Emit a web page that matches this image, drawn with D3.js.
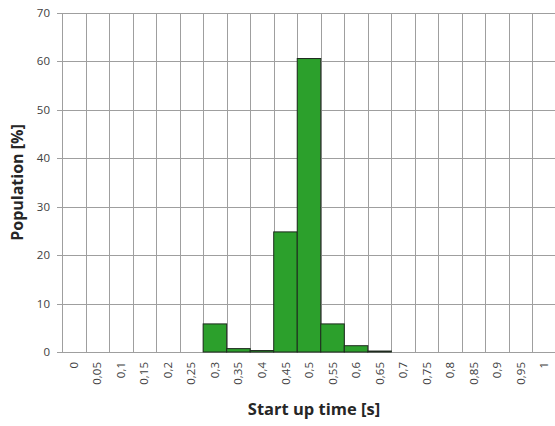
<!DOCTYPE html>
<html>
<head>
<meta charset="utf-8">
<script src="https://cdn.jsdelivr.net/npm/d3@7"></script>
<style>
  body { margin: 0; background: #fff; }
  svg { display: block; font-family: "Open Sans", "Liberation Sans", sans-serif; }
</style>
</head>
<body>
<svg id="chart" width="555" height="426"></svg>
<script>
// bin labels (start up time, s)
const bins = ['0', '0,05', '0,1', '0,15', '0,2', '0,25', '0,3', '0,35', '0,4', '0,45', '0,5',
    '0,55', '0,6', '0,65', '0,7', '0,75', '0,8', '0,85', '0,9', '0,95', '1'];

// population share per bin, %
const population = [0, 0, 0, 0, 0, 0, 5.8, 0.7, 0.3, 24.8, 60.6,
    5.8, 1.3, 0.2, 0, 0, 0, 0, 0, 0, 0];

const yTicks = [0, 10, 20, 30, 40, 50, 60, 70];

const svg = d3.select('#chart');
const margin = { left: 62, top: 13, right: 556, bottom: 352 };

const x = d3.scaleBand()
    .domain(bins)
    .range([margin.left, margin.right])
    .padding(0);

const y = d3.scaleLinear()
    .domain([0, 70])
    .range([margin.bottom, margin.top]);

const grid = svg.append('g');

// horizontal grid, with little ticks left of the axis
grid.selectAll('line.h')
    .data(yTicks)
    .enter().append('line')
    .attr('class', 'h')
    .attr('x1', margin.left - 5)
    .attr('x2', margin.right)
    .attr('y1', d => Math.round(y(d)) + 0.5)
    .attr('y2', d => Math.round(y(d)) + 0.5)
    .style('stroke', '#9f9f9f');

// vertical grid on the bin boundaries
grid.selectAll('line.v')
    .data(bins.concat(['end']))
    .enter().append('line')
    .attr('class', 'v')
    .attr('x1', (d, i) => Math.round(margin.left + i * x.bandwidth()) + 0.5)
    .attr('x2', (d, i) => Math.round(margin.left + i * x.bandwidth()) + 0.5)
    .attr('y1', y(70))
    .attr('y2', y(0))
    .style('stroke', '#9f9f9f');

// bars
svg.append('g').selectAll('rect')
    .data(bins.map((b, i) => ({ bin: b, value: population[i] })).filter(d => d.value > 0))
    .enter().append('rect')
    .attr('x', d => x(d.bin))
    .attr('width', x.bandwidth())
    .attr('y', d => y(d.value))
    .attr('height', d => y(0) - y(d.value))
    .style('fill', '#2ca02c')
    .style('stroke', '#1e2a1e')
    .style('stroke-width', 1);

// y tick labels
svg.append('g').selectAll('text')
    .data(yTicks)
    .enter().append('text')
    .attr('x', 50)
    .attr('y', d => y(d))
    .attr('dy', '0.35em')
    .attr('text-anchor', 'end')
    .style('font-size', '11.5px')
    .style('fill', '#404040')
    .text(d => d);

// x tick labels, rotated
svg.append('g').selectAll('text')
    .data(bins)
    .enter().append('text')
    .attr('transform', d => 'translate(' + (x(d) + x.bandwidth() / 2) + ',362) rotate(-90)')
    .attr('dy', '0.35em')
    .attr('text-anchor', 'end')
    .style('font-size', '11.5px')
    .style('fill', '#404040')
    .text(d => d);

// axis titles
svg.append('text')
    .attr('x', 314)
    .attr('y', 415)
    .attr('text-anchor', 'middle')
    .style('font-size', '16.5px')
    .style('font-weight', 'bold')
    .style('fill', '#262626')
    .text('Start up time [s]');

svg.append('text')
    .attr('transform', 'translate(23,' + ((margin.top + margin.bottom) / 2) + ') rotate(-90)')
    .attr('text-anchor', 'middle')
    .style('font-size', '16px')
    .style('font-weight', 'bold')
    .style('fill', '#262626')
    .text('Population [%]');
</script>
</body>
</html>
